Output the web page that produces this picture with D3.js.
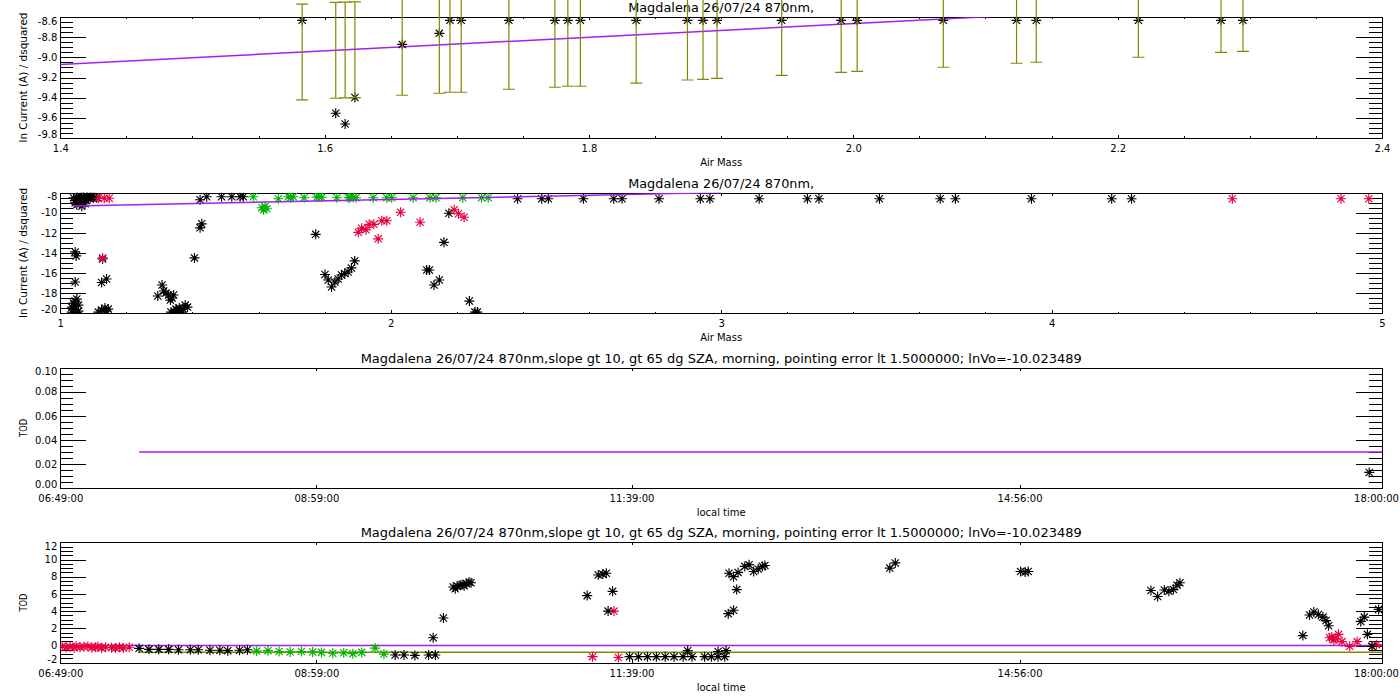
<!DOCTYPE html>
<html>
<head>
<meta charset="utf-8">
<script src="https://cdn.jsdelivr.net/npm/d3@7"></script>
<style>
body { margin: 0; background: #fff; }
svg text { font-family: "DejaVu Sans", sans-serif; fill: #000; }
.axis path, .axis line { stroke: #000; stroke-width: 1; shape-rendering: crispEdges; }
</style>
</head>
<body>
<svg id="chart" width="1400" height="700"></svg>
<script>
// ---- data ----
// panel 1: ln current vs air mass, with error bars round the fit
var p1AirMass = [1.583, 1.6084, 1.6155, 1.6229, 1.6587, 1.6868, 1.6948, 1.7033, 1.7394, 1.7742, 1.7840, 1.7935, 1.8357,
	1.8745, 1.8863, 1.8969, 1.9458, 1.9908, 2.0029, 2.0681, 2.1235, 2.1384, 2.2157, 2.2782, 2.2948];
var p1LnI = [-8.63, -9.556, -9.663, -9.40, -8.87, -8.76, -8.63, -8.63, -8.63, -8.63, -8.63, -8.63, -8.63,
	-8.63, -8.63, -8.63, -8.63, -8.63, -8.63, -8.63, -8.63, -8.63, -8.63, -8.63, -8.63];
var p1ErrLow = [-9.424, -9.407, -9.404, -9.401, -9.377, -9.357, -9.347, -9.347, -9.317, -9.297, -9.287, -9.287, -9.257,
	-9.225, -9.218, -9.208, -9.178, -9.148, -9.138, -9.098, -9.058, -9.048, -8.998, -8.949, -8.939];
var p1ErrHigh = [-8.469, -8.452, -8.449, -8.446, -8.422, -8.402, -8.392, -8.392, -8.362, -8.342, -8.332, -8.332, -8.302,
	-8.270, -8.263, -8.253, -8.223, -8.193, -8.183, -8.143, -8.103, -8.093, -8.043, -7.994, -7.984];
// Langley fit line (lnVo = -10.023489)
var fitAirMass = [1.04, 3.0];
var fitLnI = [-9.316, -7.983];

// panel 2: all points, coloured by filter result
var p2BlackAM = [1.040, 1.045, 1.050, 1.055, 1.060, 1.065, 1.070, 1.075, 1.080, 1.085, 1.090, 1.095, 1.100, 1.105, 1.110,
	1.050, 1.065, 1.075, 1.060, 1.080, 1.045, 1.090,
	1.045, 1.048, 1.045, 1.128, 1.125, 1.140,
	1.035, 1.040, 1.045, 1.040, 1.050, 1.055, 1.035, 1.050, 1.045, 1.055, 1.115, 1.125, 1.135, 1.140, 1.145,
	1.295, 1.308, 1.313, 1.320, 1.328, 1.333, 1.338, 1.343, 1.335, 1.345, 1.350, 1.353, 1.355, 1.360, 1.363, 1.365, 1.372, 1.378, 1.385,
	1.406, 1.423, 1.428, 1.423, 1.443, 1.488, 1.519, 1.544, 1.554,
	1.773, 1.801, 1.811, 1.821, 1.831, 1.841, 1.851, 1.861, 1.871, 1.881, 1.891,
	2.109, 2.117, 2.131, 2.147, 2.161, 2.176, 2.238, 2.255, 2.262,
	2.384, 2.457, 2.477, 2.583, 2.675, 2.700, 2.812, 2.937, 2.966, 3.115, 3.261, 3.296, 3.479, 3.663, 3.709, 3.939, 4.182, 4.242];
var p2BlackLnI = [-8.5, -8.8, -8.4, -8.6, -8.9, -8.4, -8.5, -8.7, -8.4, -8.5, -8.6, -8.4, -8.5, -8.4, -8.5,
	-9.2, -9.35, -9.1, -8.3, -8.3, -9.0, -8.3,
	-13.9, -14.3, -16.9, -14.6, -16.95, -16.6,
	-19.9, -19.6, -19.3, -19.0, -18.6, -19.8, -19.4, -19.95, -18.8, -19.2, -19.9, -19.7, -19.5, -19.8, -19.6,
	-18.3, -17.2, -17.8, -18.0, -18.2, -18.7, -18.5, -18.2, -19.9, -19.95, -19.6, -19.7, -19.8, -19.5, -19.7, -19.9, -19.6, -19.2, -19.4,
	-14.5, -11.5, -11.1, -8.7, -8.4, -8.4, -8.4, -8.4, -8.4,
	-12.15, -16.15, -16.7, -17.4, -16.9, -16.6, -16.2, -16.05, -15.9, -15.5, -14.8,
	-15.7, -15.7, -17.2, -16.7, -12.95, -10.05, -18.8, -19.9, -19.9,
	-8.6, -8.6, -8.6, -8.6, -8.6, -8.6, -8.6, -8.6, -8.6, -8.6, -8.6, -8.6, -8.6, -8.6, -8.6, -8.6, -8.6, -8.6];
var p2RedAM = [1.115, 1.133, 1.148, 1.128, 1.902, 1.912, 1.925, 1.935, 1.949, 1.962, 1.973, 1.988, 2.030, 2.089,
	2.192, 2.205, 2.222, 4.547, 4.876, 4.960];
var p2RedLnI = [-8.55, -8.55, -8.55, -14.5, -11.95, -11.55, -11.7, -11.15, -11.15, -12.6, -10.8, -10.8, -9.95, -10.95,
	-9.7, -10.1, -10.45, -8.6, -8.6, -8.6];
var p2GreenAM = [1.584, 1.610, 1.615, 1.620, 1.625, 1.660, 1.690, 1.697, 1.705, 1.738, 1.776, 1.783, 1.791, 1.837,
	1.872, 1.877, 1.887, 1.895, 1.947, 1.988, 2.003, 2.068, 2.119, 2.137, 2.218, 2.275, 2.295];
var p2GreenLnI = [-8.4, -9.5, -9.7, -9.4, -9.6, -8.6, -8.4, -8.5, -8.4, -8.5, -8.45, -8.4, -8.45, -8.5,
	-8.5, -8.5, -8.45, -8.5, -8.5, -8.5, -8.5, -8.5, -8.5, -8.5, -8.5, -8.5, -8.5];

// panel 3: TOD of the accepted points (time in minutes of the day)
var p3Time = [1073.5];
var p3Tod = [0.013];
var p3RefTime = [449, 1080];
var p3RefTod = [0.03, 0.03];

// panel 4: TOD of all points
var p4RedTime = [410, 412, 414, 416, 417, 419, 421, 423, 425, 427, 428, 430, 432, 435, 437, 439, 441, 444,
	679.2, 690.1, 692.3, 1053.4, 1054.5, 1055.6, 1056.5, 1057.9, 1059.7, 1063.6, 1067.4, 1074.9, 1077.2];
var p4RedTod = [-0.1, -0.2, -0.15, -0.25, -0.1, -0.2, -0.15, -0.1, -0.25, -0.2, -0.15, -0.3, -0.2, -0.25, -0.3, -0.2, -0.3, -0.2,
	-1.3, 4.0, -1.4, 0.9, 1.0, 0.65, 0.8, 1.3, 0.45, -0.1, 0.45, -0.1, 0.1];
var p4BlackTime = [449, 454, 459, 464, 469, 475, 479, 485, 490, 494, 500, 504,
	579, 583.5, 589, 596, 599.4, 598.3, 603.5, 608.5, 609.5, 610.7, 612, 613, 614, 615.3, 616.5, 617.5,
	676.5, 682.1, 684.4, 686.2, 687.1, 689.4,
	698, 702.5, 707.1, 711.6, 716.1, 720.6, 725.2, 729.7, 727.5, 736.1, 739.5, 742.9, 746.3, 742.9, 747,
	748.5, 750.8, 753.1, 756.5, 758.7, 761, 763.3, 765.5, 766.7, 752.4, 748.1, 750.8,
	830.1, 832.9, 896.5, 898.8, 900.4,
	962.7, 966.1, 969.5, 971.8, 974.1, 975.9, 977.4,
	1039.8, 1043.2, 1045.4, 1047.7, 1050, 1051.6, 1052.9, 1069.2, 1071, 1072.6, 1074.9, 1078.3];
var p4BlackTod = [-0.33, -0.45, -0.45, -0.45, -0.5, -0.5, -0.5, -0.55, -0.55, -0.6, -0.55, -0.5,
	-1.1, -1.1, -1.15, -1.1, -1.1, 0.9, 3.2, 6.8, 6.6, 6.9, 7.0, 7.1, 6.95, 7.2, 7.35, 7.3,
	5.8, 8.2, 8.3, 8.4, 4.0, 6.3,
	-1.3, -1.3, -1.3, -1.3, -1.3, -1.3, -1.3, -1.3, -0.6, -1.3, -1.3, -1.3, -1.3, -0.7, -0.6,
	8.4, 8.0, 8.5, 9.2, 9.4, 8.6, 8.9, 9.2, 9.3, 6.5, 3.7, 4.1,
	9.0, 9.6, 8.6, 8.55, 8.6,
	6.4, 5.7, 6.45, 6.3, 6.5, 7.0, 7.3,
	1.15, 3.55, 3.9, 3.6, 3.3, 2.9, 2.3, 2.8, 3.3, 1.3, -0.1, 4.2];
var p4GreenTime = [508.7, 514.4, 520.1, 525.7, 531.4, 537.1, 541.6, 547.3, 552.9, 557.5, 562, 568.8, 573.3];
var p4GreenTod = [-0.65, -0.6, -0.7, -0.75, -0.7, -0.75, -0.8, -0.9, -0.85, -0.95, -0.8, -0.3, -1.0];
var p4ZeroTime = [409, 1080];
var p4ZeroTod = [0, 0];
var p4LimTime = [449, 1080];
var p4LimTod = [-0.78, -0.78];

// ticks
var p1XTicks = [1.4, 1.6, 1.8, 2.0, 2.2, 2.4];
var p1YTicks = [-8.6, -8.8, -9.0, -9.2, -9.4, -9.6, -9.8];
var p2XTicks = [1, 2, 3, 4, 5];
var p2YTicks = [-8, -10, -12, -14, -16, -18, -20];
var p3YTicks = [0, 0.02, 0.04, 0.06, 0.08, 0.10];
var p4YTicks = [-2, 0, 2, 4, 6, 8, 10, 12];
var timeTicks = [409, 539, 699, 896, 1080];

var titleShort = "Magdalena 26/07/24 870nm,";
var titleLong = "Magdalena 26/07/24 870nm,slope gt 10, gt 65 dg SZA, morning, pointing error lt 1.5000000; lnVo=-10.023489";

// ---- layout ----
var L = 60.3, R = 1382, W = R - L, H = 120.4;
var tops = [17.3, 192.7, 367.7, 542.3];
var cBlack = "#000", cRed = "#e6003c", cGreen = "#00b400", cPurple = "#a020f0", cOlive = "#878700";
var STAR = "M0,-5V5M-5,0H5M-3.6,-3.6L3.6,3.6M-3.6,3.6L3.6,-3.6";

var svg = d3.select("#chart");
var loc = d3.formatLocale({decimal: ".", thousands: ",", grouping: [3], currency: ["", ""], minus: "-"});
var pad2 = d3.format("02d");
function timeLabel(m) { return pad2(Math.floor(m / 60)) + ":" + pad2(Math.round(m % 60)) + ":00"; }
function minors(a, b, step) { return d3.range(Math.round((b - a) / step) + 1).map(function(i) { return a + i * step; }); }

function panel(idx, x, y, o) {
	var g = svg.append("g").attr("transform", "translate(" + L + "," + tops[idx] + ")");
	var clipId = "clip" + idx;
	g.append("clipPath").attr("id", clipId).append("rect").attr("width", W).attr("height", H);

	function ax(axis, tx, ty, cls) {
		var a = g.append("g").attr("class", "axis " + (cls || "")).attr("transform", "translate(" + tx + "," + ty + ")").call(axis);
		a.attr("font-family", null).attr("font-size", 10);
		return a;
	}
	// x axes (bottom with labels, top without)
	var xl = ax(d3.axisBottom(x).tickValues(o.xMajor).tickSizeInner(-3).tickSizeOuter(0).tickPadding(7).tickFormat(o.xFmt), 0, H);
	ax(d3.axisTop(x).tickValues(o.xMajor).tickSizeInner(-3).tickSizeOuter(0).tickFormat(""), 0, 0);
	if (o.xMinor) {
		ax(d3.axisBottom(x).tickValues(o.xMinor).tickSize(-1.5).tickFormat(""), 0, H).select(".domain").remove();
		ax(d3.axisTop(x).tickValues(o.xMinor).tickSize(-1.5).tickFormat(""), 0, 0).select(".domain").remove();
	}
	// last time label is just squeezed inside the window edge
	if (o.lastShift) xl.selectAll(".tick text").filter(function(d, i, n) { return i === n.length - 1; }).attr("x", o.lastShift);
	// y axes, long IDL ticks pointing inwards
	var yl = ax(d3.axisLeft(y).tickValues(o.yMajor).tickSizeInner(-26).tickSizeOuter(0).tickPadding(3).tickFormat(o.yFmt), 0, 0, "ylab");
	ax(d3.axisRight(y).tickValues(o.yMajor).tickSizeInner(-26).tickSizeOuter(0).tickFormat(""), W, 0);
	ax(d3.axisLeft(y).tickValues(o.yMinor).tickSize(-13).tickFormat(""), 0, 0).select(".domain").remove();
	ax(d3.axisRight(y).tickValues(o.yMinor).tickSize(-13).tickFormat(""), W, 0).select(".domain").remove();
	// keep end labels inside the frame like IDL does
	yl.selectAll(".tick text").attr("y", function(d) {
		var py = y(d);
		return py < 3.5 ? 3.5 - py : (py > H - 3.5 ? H - 3.5 - py : 0);
	});

	g.append("text").attr("x", W / 2).attr("y", -5).attr("text-anchor", "middle")
		.attr("font-size", 11.5).attr("textLength", o.titleLen).attr("lengthAdjust", "spacingAndGlyphs").text(o.title);
	g.append("text").attr("x", W / 2).attr("y", H + 28).attr("text-anchor", "middle")
		.attr("font-size", 10).attr("textLength", o.xTitleLen).attr("lengthAdjust", "spacingAndGlyphs").text(o.xTitle);
	svg.append("text").attr("transform", "translate(27," + (tops[idx] + H / 2) + ")rotate(-90)")
		.attr("text-anchor", "middle").attr("font-size", 10)
		.attr("textLength", o.yTitleLen).attr("lengthAdjust", "spacingAndGlyphs").text(o.yTitle);

	var plot = g.append("g").attr("clip-path", "url(#" + clipId + ")");
	return {g: g, plot: plot, x: x, y: y};
}

function stars(p, xs, ys, color) {
	p.plot.append("g").selectAll("path").data(d3.zip(xs, ys)).join("path")
		.attr("d", STAR)
		.attr("transform", function(d) { return "translate(" + p.x(d[0]) + "," + p.y(d[1]) + ")"; })
		.attr("fill", "none").attr("stroke", color).attr("stroke-width", 1.15);
}
function line(p, xs, ys, color, w) {
	p.plot.append("path").datum(d3.zip(xs, ys))
		.attr("d", d3.line().x(function(d) { return p.x(d[0]); }).y(function(d) { return p.y(d[1]); }))
		.attr("fill", "none").attr("stroke", color).attr("stroke-width", w || 1.5);
}

// ---- panel 1 ----
var x1 = d3.scaleLinear().domain([1.4, 2.4]).range([0, W]);
var y1 = d3.scaleLinear().domain([-9.8, -8.6]).range([H, 0]);
var p1 = panel(0, x1, y1, {
	xMajor: p1XTicks, xMinor: minors(1.4, 2.4, 0.05), xFmt: loc.format(".1f"),
	yMajor: p1YTicks, yMinor: minors(-9.8, -8.6, 0.05), yFmt: loc.format(".1f"),
	title: titleShort, titleLen: 186, xTitle: "Air Mass", xTitleLen: 42,
	yTitle: "ln Current  (A)  /  dsquared", yTitleLen: 130
});
// error bars are not clipped (they run above the frame)
var eb = p1.g.append("g").attr("stroke", cOlive).attr("stroke-width", 1.2).attr("fill", "none");
p1AirMass.forEach(function(a, i) {
	var px = x1(a), lo = y1(p1ErrLow[i]), hi = y1(p1ErrHigh[i]);
	eb.append("path").attr("d", "M" + px + "," + lo + "V" + hi + "M" + (px - 6) + "," + lo + "H" + (px + 6) + "M" + (px - 6) + "," + hi + "H" + (px + 6));
});
line(p1, fitAirMass, fitLnI, cPurple, 1.5);
stars(p1, p1AirMass, p1LnI, cBlack);

// ---- panel 2 ----
var x2 = d3.scaleLinear().domain([1, 5]).range([0, W]);
var y2 = d3.scaleLinear().domain([-20, -8]).range([H, 0]);
var p2 = panel(1, x2, y2, {
	xMajor: p2XTicks, xMinor: minors(1, 5, 0.2), xFmt: loc.format("d"),
	yMajor: p2YTicks, yMinor: minors(-20, -8, 0.5), yFmt: loc.format("d"),
	title: titleShort, titleLen: 186, xTitle: "Air Mass", xTitleLen: 42,
	yTitle: "ln Current  (A)  /  dsquared", yTitleLen: 130
});
stars(p2, p2BlackAM, p2BlackLnI, cBlack);
stars(p2, p2RedAM, p2RedLnI, cRed);
stars(p2, p2GreenAM, p2GreenLnI, cGreen);
line(p2, fitAirMass, fitLnI, cPurple, 1.5);

// ---- panel 3 ----
var xt3 = d3.scaleLinear().domain([409, 1080]).range([0, W]);
var y3 = d3.scaleLinear().domain([0, 0.1]).range([H, 0]);
var p3 = panel(2, xt3, y3, {
	xMajor: timeTicks, xFmt: timeLabel, lastShift: -6,
	yMajor: p3YTicks, yMinor: minors(0, 0.1, 0.005), yFmt: loc.format(".2f"),
	title: titleLong, titleLen: 721, xTitle: "local time", xTitleLen: 49,
	yTitle: "TOD", yTitleLen: 18
});
line(p3, p3RefTime, p3RefTod, cPurple, 1.5);
stars(p3, p3Time, p3Tod, cBlack);

// ---- panel 4 ----
var xt4 = d3.scaleLinear().domain([409, 1080]).range([0, W]);
var y4 = d3.scaleLinear().domain([-2, 12]).range([H, 0]);
var p4 = panel(3, xt4, y4, {
	xMajor: timeTicks, xFmt: timeLabel, lastShift: -6,
	yMajor: p4YTicks, yMinor: minors(-2, 12, 0.5), yFmt: loc.format("d"),
	title: titleLong, titleLen: 721, xTitle: "local time", xTitleLen: 49,
	yTitle: "TOD", yTitleLen: 18
});
line(p4, p4ZeroTime, p4ZeroTod, cPurple, 1.5);
line(p4, p4LimTime, p4LimTod, cOlive, 1.5);
stars(p4, p4RedTime, p4RedTod, cRed);
stars(p4, p4BlackTime, p4BlackTod, cBlack);
stars(p4, p4GreenTime, p4GreenTod, cGreen);
</script>
</body>
</html>
